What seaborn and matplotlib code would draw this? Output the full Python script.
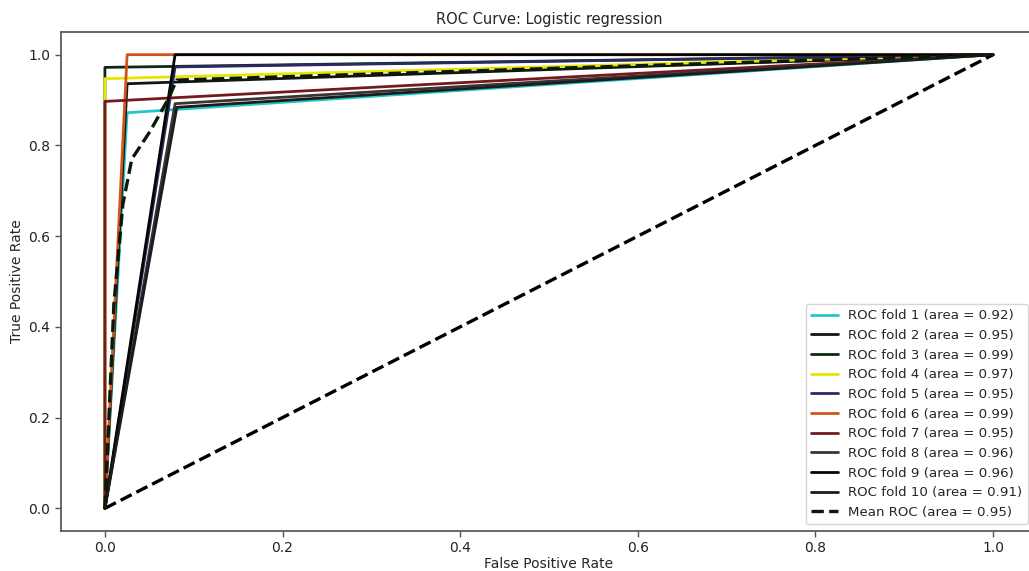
import matplotlib
matplotlib.use("Agg")
import matplotlib.pyplot as plt
import seaborn as sns
import pandas as pd

# ---- data ----
fold_names = ["ROC fold 1", "ROC fold 2", "ROC fold 3", "ROC fold 4", "ROC fold 5",
              "ROC fold 6", "ROC fold 7", "ROC fold 8", "ROC fold 9", "ROC fold 10"]
fold_auc = [0.92, 0.95, 0.99, 0.97, 0.95, 0.99, 0.95, 0.96, 0.96, 0.91]

fold1_fpr = [0.0, 0.025, 1.0]
fold1_tpr = [0.0, 0.872, 1.0]
fold2_fpr = [0.0, 0.025, 1.0]
fold2_tpr = [0.0, 0.936, 1.0]
fold3_fpr = [0.0, 0.0, 1.0]
fold3_tpr = [0.0, 0.972, 1.0]
fold4_fpr = [0.0, 0.0, 1.0]
fold4_tpr = [0.0, 0.947, 1.0]
fold5_fpr = [0.0, 0.079, 1.0]
fold5_tpr = [0.0, 0.973, 1.0]
fold6_fpr = [0.0, 0.025, 1.0]
fold6_tpr = [0.0, 1.0, 1.0]
fold7_fpr = [0.0, 0.0, 1.0]
fold7_tpr = [0.0, 0.897, 1.0]
fold8_fpr = [0.0, 0.079, 1.0]
fold8_tpr = [0.0, 0.892, 1.0]
fold9_fpr = [0.0, 0.079, 1.0]
fold9_tpr = [0.0, 1.0, 1.0]
fold10_fpr = [0.0, 0.081, 1.0]
fold10_tpr = [0.0, 0.884, 1.0]

mean_fpr = [0.0, 0.0101, 0.0202, 0.0303, 0.0404, 0.0505, 0.0606, 0.0707, 0.0808, 1.0]
mean_tpr = [0.0, 0.45, 0.67, 0.77, 0.80, 0.83, 0.865, 0.90, 0.944, 1.0]
mean_auc = 0.95

chance_fpr = [0.0, 1.0]
chance_tpr = [0.0, 1.0]

fold_colors = ["#22c8c8", "#141414", "#0e2a14", "#e6e600", "#2a2a60",
               "#d2541c", "#741a1c", "#3a3434", "#050505", "#1c1c1c"]

folds_fpr = [fold1_fpr, fold2_fpr, fold3_fpr, fold4_fpr, fold5_fpr,
             fold6_fpr, fold7_fpr, fold8_fpr, fold9_fpr, fold10_fpr]
folds_tpr = [fold1_tpr, fold2_tpr, fold3_tpr, fold4_tpr, fold5_tpr,
             fold6_tpr, fold7_tpr, fold8_tpr, fold9_tpr, fold10_tpr]

# ---- style ----
sns.set_theme(style="ticks")
plt.rcParams["font.family"] = ["DejaVu Sans"]
plt.rcParams["axes.edgecolor"] = "#555555"
plt.rcParams["xtick.color"] = "#555555"
plt.rcParams["ytick.color"] = "#555555"
plt.rcParams["xtick.labelcolor"] = "#222222"
plt.rcParams["ytick.labelcolor"] = "#222222"

W, H = 1029, 571
fig = plt.figure(figsize=(W / 100, H / 100), dpi=100)
ax = fig.add_axes([60.5 / W, (H - 531) / H, 977 / W, (531 - 32) / H])

for name, auc, fx, ty, col in zip(fold_names, fold_auc, folds_fpr, folds_tpr, fold_colors):
    df = pd.DataFrame({"fpr": fx, "tpr": ty})
    sns.lineplot(data=df, x="fpr", y="tpr", estimator=None, sort=False, ax=ax,
                 color=col, linewidth=2.0, label=f"{name} (area = {auc:.2f})")

sns.lineplot(x=chance_fpr, y=chance_tpr, estimator=None, sort=False, ax=ax,
             color="black", linestyle="--", linewidth=2.4)
sns.lineplot(x=mean_fpr, y=mean_tpr, estimator=None, sort=False, ax=ax,
             color="#0a1a0a", linestyle="--", linewidth=2.4,
             label=f"Mean ROC (area = {mean_auc:.2f})")

ax.set_xlim(-0.05, 1.05)
ax.set_ylim(-0.05, 1.05)
ax.set_xticks([0.0, 0.2, 0.4, 0.6, 0.8, 1.0])
ax.set_yticks([0.0, 0.2, 0.4, 0.6, 0.8, 1.0])
ax.tick_params(labelsize=10, length=4, width=1)
ax.set_xlabel("False Positive Rate", fontsize=10, labelpad=1)
ax.set_ylabel("True Positive Rate", fontsize=10, labelpad=3)
ax.set_title("ROC Curve: Logistic regression", fontsize=10.5, pad=6)
ax.spines["top"].set_visible(True)
ax.spines["right"].set_visible(True)

# legend: anchor so its right edge lands just inside the visible canvas
leg = ax.legend(loc="lower right", fontsize=9.6, frameon=True, fancybox=True,
                borderaxespad=0.5, bbox_to_anchor=(1027 / 1037.5 + 0.007, 0.0),
                bbox_transform=ax.transAxes)
leg.get_frame().set_edgecolor("#cccccc")
leg.get_frame().set_linewidth(1.0)

fig.savefig("out.png", dpi=100)
